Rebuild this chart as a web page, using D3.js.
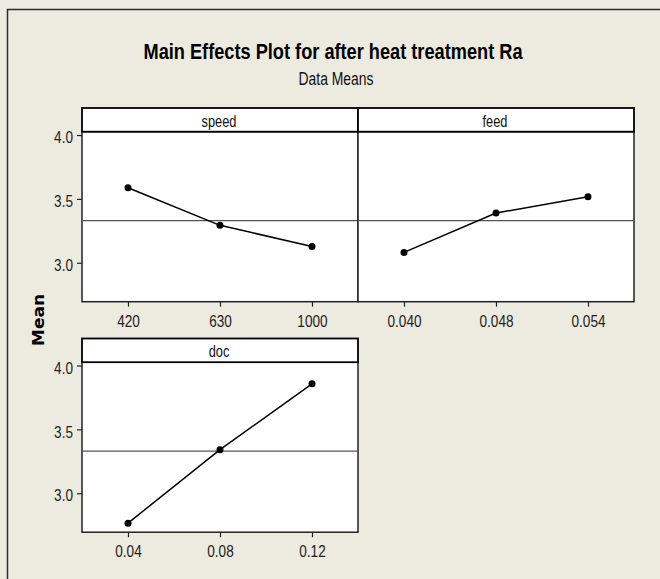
<!DOCTYPE html>
<html>
<head>
<meta charset="utf-8">
<script src="https://cdn.jsdelivr.net/npm/d3@7"></script>
<style>
  html, body { margin: 0; padding: 0; background: #EDEAE0; overflow: hidden; }
  svg { display: block; }
  .narrow { font-family: "Liberation Sans", Arial, sans-serif; }
</style>
</head>
<body>
<svg id="chart" width="660" height="579"></svg>
<script>
// ---- data ----
const factors = ["speed", "feed", "doc"];
const speedLevels = ["420", "630", "1000"];
const speedMeans = [3.587, 3.293, 3.128];
const feedLevels = ["0.040", "0.048", "0.054"];
const feedMeans = [3.081, 3.389, 3.517];
const docLevels = ["0.04", "0.08", "0.12"];
const docMeans = [2.766, 3.341, 3.857];
const grandMean = 3.33;
const yTicks = [3.0, 3.5, 4.0];
const yDomain = [2.695, 4.026];
const titleText = "Main Effects Plot for after heat treatment Ra";
const subtitleText = "Data Means";
const yLabelText = "Mean";

const panelsData = [
  { name: factors[0], levels: speedLevels, means: speedMeans, col: 0, row: 0, yAxis: true },
  { name: factors[1], levels: feedLevels, means: feedMeans, col: 1, row: 0, yAxis: false },
  { name: factors[2], levels: docLevels, means: docMeans, col: 0, row: 1, yAxis: true }
];

// condensed look: squeeze glyphs horizontally, text stays real text
function condense(sel, f) {
  sel.each(function () {
    const w = this.getComputedTextLength();
    d3.select(this).attr("textLength", (w * f).toFixed(2)).attr("lengthAdjust", "spacingAndGlyphs");
  });
}
function fitWidth(sel, target) {
  sel.attr("textLength", target).attr("lengthAdjust", "spacingAndGlyphs");
}

// ---- layout ----
const svg = d3.select("#chart");
const W = 660, H = 579;
const panelX0 = 82, panelW = 276;
const rowTop = [108, 338.5];
const headerH = 23.7, plotH = 170;

svg.append("rect").attr("x", 0).attr("y", 0).attr("width", W).attr("height", H).attr("fill", "#EDEAE0");
svg.append("path")
  .attr("d", `M7.5,${H} L7.5,9.5 L${W},9.5`)
  .attr("fill", "none").attr("stroke", "#2a2a2a").attr("stroke-width", 1.5);

// titles
const t1 = svg.append("text").attr("class", "narrow")
  .attr("x", 333).attr("y", 59).attr("text-anchor", "middle")
  .attr("font-size", 21.5).attr("font-weight", "bold").attr("fill", "#000")
  .text(titleText);
fitWidth(t1, 379);
const t2 = svg.append("text").attr("class", "narrow")
  .attr("x", 336).attr("y", 85).attr("text-anchor", "middle")
  .attr("font-size", 17.5).attr("fill", "#111")
  .text(subtitleText);
fitWidth(t2, 75);

// y label
const yl = svg.append("text")
  .attr("transform", "translate(43.5,320) rotate(-90)")
  .attr("text-anchor", "middle")
  .attr("font-family", "DejaVu Sans, sans-serif")
  .attr("font-weight", "bold").attr("font-size", 16).attr("fill", "#000")
  .text(yLabelText);
fitWidth(yl, 52);

panelsData.forEach(p => {
  const x0 = panelX0 + p.col * panelW;
  const hTop = rowTop[p.row];
  const pTop = hTop + headerH;
  const g = svg.append("g");

  const x = d3.scalePoint().domain(p.levels).range([x0, x0 + panelW]).padding(0.5);
  const y = d3.scaleLinear().domain(yDomain).range([pTop + plotH, pTop]);

  g.append("rect").attr("x", x0).attr("y", pTop).attr("width", panelW).attr("height", plotH)
    .attr("fill", "#fff").attr("stroke", "#222").attr("stroke-width", 1.5);
  g.append("rect").attr("x", x0).attr("y", hTop).attr("width", panelW).attr("height", headerH)
    .attr("fill", "#fff").attr("stroke", "#000").attr("stroke-width", 1.8);
  const ht = g.append("text").attr("class", "narrow")
    .attr("x", x0 + panelW / 2 - 1).attr("y", hTop + 18.7)
    .attr("text-anchor", "middle").attr("font-size", 16.2).attr("fill", "#111")
    .text(p.name);
  condense(ht, 0.79);

  g.append("line")
    .attr("x1", x0).attr("x2", x0 + panelW)
    .attr("y1", y(grandMean)).attr("y2", y(grandMean))
    .attr("stroke", "#555").attr("stroke-width", 1.2);

  const xa = g.append("g").attr("transform", `translate(0,${pTop + plotH})`)
    .call(d3.axisBottom(x).tickSize(5));
  xa.select(".domain").remove();
  xa.selectAll("text").attr("class", "narrow").attr("font-size", 17).attr("fill", "#222")
    .attr("y", 25).attr("dy", null);
  condense(xa.selectAll("text"), 0.8);
  xa.selectAll("line").attr("stroke", "#222").attr("stroke-width", 1.2);

  if (p.yAxis) {
    const ya = g.append("g").attr("transform", `translate(${x0},0)`)
      .call(d3.axisLeft(y).tickValues(yTicks).tickFormat(d3.format(".1f")).tickSize(5).tickPadding(4));
    ya.select(".domain").remove();
    ya.selectAll("text").attr("class", "narrow").attr("font-size", 17).attr("fill", "#222")
      .attr("dy", "0.45em");
    condense(ya.selectAll("text"), 0.8);
    ya.selectAll("line").attr("stroke", "#222").attr("stroke-width", 1.2);
  }

  const pts = p.levels.map((l, i) => ({ l, v: p.means[i] }));
  g.append("path").datum(pts)
    .attr("d", d3.line().x(d => x(d.l)).y(d => y(d.v)))
    .attr("fill", "none").attr("stroke", "#000").attr("stroke-width", 1.5);
  g.selectAll("circle.pt").data(pts).join("circle")
    .attr("class", "pt")
    .attr("cx", d => x(d.l)).attr("cy", d => y(d.v)).attr("r", 3.5)
    .attr("fill", "#000");
});
</script>
</body>
</html>
